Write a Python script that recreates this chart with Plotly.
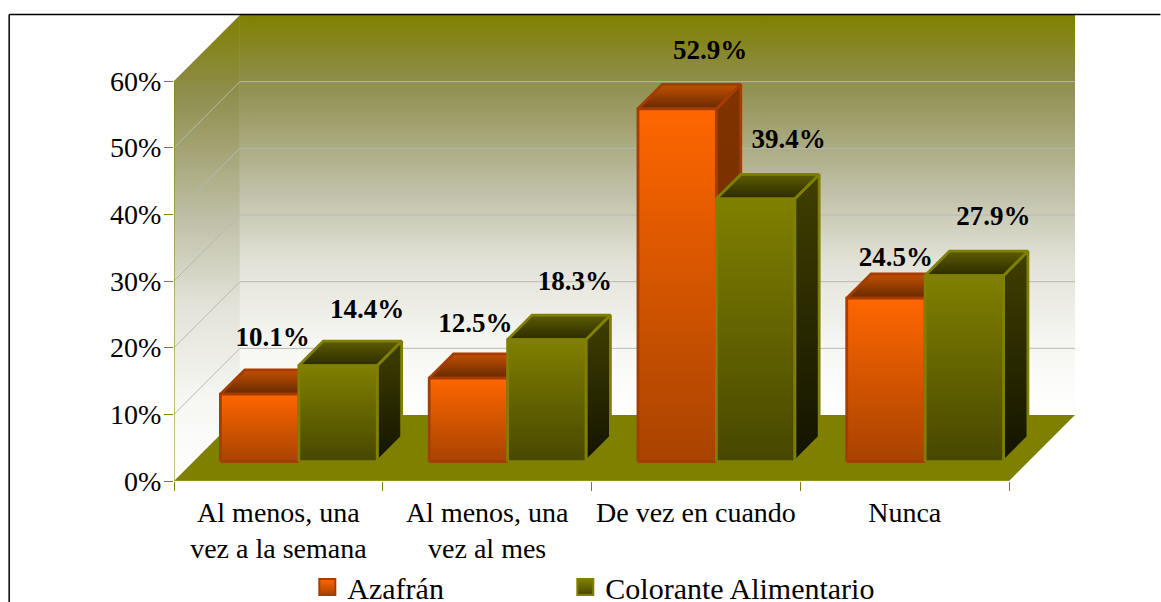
import plotly.graph_objects as go

# ---- data ----
CATEGORIES = ["Al menos, una<br>vez a la semana", "Al menos, una<br>vez al mes", "De vez en cuando", "Nunca"]
AZAFRAN = [10.1, 12.5, 52.9, 24.5]
COLORANTE = [14.4, 18.3, 39.4, 27.9]
Y_TICKS = [0, 10, 20, 30, 40, 50, 60]
Y_LABELS = ["0%", "10%", "20%", "30%", "40%", "50%", "60%"]
AZ_LABELS = ["10.1%", "12.5%", "52.9%", "24.5%"]
CO_LABELS = ["14.4%", "18.3%", "39.4%", "27.9%"]

# ---- layout constants (px) ----
W, H = 1161, 602
L, R, T, B = 173.5, 1076.5, 15, 481
PX_X = 209.0           # px per category
PX_Y = 400.0 / 60      # px per percentage point
DX = 66 / PX_X         # depth vector in axis units
DY = 66 / PX_Y
BAR_W = 78.5 / PX_X
BAR_SHIFT = 1 / PX_X
D_FRONT, D_BACK = 0.295, 0.665
FONT = "Liberation Serif"
FS = 28

# label nudges from the bar's centre/front-top, px
AZ_NUDGE = [(13, 55), (7, 53), (33, 57), (10, 39)]
CO_NUDGE = [(29, 54), (28, 56), (33, 58), (29, 57)]


def P(x, y, d):
    return x + d * DX, y + d * DY


def poly(points, stops, y0=None, y1=None, line=None, lw=2.8):
    xs = [p[0] for p in points] + [points[0][0]]
    ys = [p[1] for p in points] + [points[0][1]]
    top = max(ys) if y0 is None else y0
    bot = min(ys) if y1 is None else y1
    return go.Scatter(
        x=xs, y=ys, mode="lines", fill="toself",
        fillgradient=dict(type="vertical", start=top, stop=bot, colorscale=stops),
        line=dict(color=line or "rgba(0,0,0,0)", width=lw if line else 0),
        showlegend=False, hoverinfo="skip",
    )


def seg(points, color, width=1):
    return go.Scatter(x=[p[0] for p in points], y=[p[1] for p in points], mode="lines",
                      line=dict(color=color, width=width), showlegend=False, hoverinfo="skip")


WALL = [[0, "#808000"], [0.16, "#8d8d4a"], [0.27, "#a0a06e"], [0.44, "#c0c0a8"],
        [0.62, "#e2e2d8"], [0.82, "#f6f6f2"], [1, "#ffffff"]]
N = len(CATEGORIES)
XMAX = (R - L) / PX_X
YMAX = (B - T) / PX_Y
traces = []

# walls
traces.append(poly([P(0, 0, 0), P(0, 60, 0), P(0, 60, 1), P(0, 0, 1)], WALL, y0=60 + DY, y1=0))
traces.append(poly([P(0, 0, 1), P(0, 60, 1), P(N, 60, 1), P(N, 0, 1)], WALL, y0=60 + DY, y1=DY))
# grid
GRID = "#b9b9b0"
for t in Y_TICKS[1:]:
    pts = [P(0, t, 0), P(0, t, 1)]
    if t < 60:
        pts.append(P(N, t, 1))
    traces.append(seg(pts, GRID))
# floor
traces.append(poly([P(0, 0, 0), P(N, 0, 0), P(N, 0, 1), P(0, 0, 1)], [[0, "#808000"], [1, "#808000"]]))
# axis lines
traces.append(seg([P(0, 0, 0), P(0, 60, 0)], "#808000"))
traces.append(seg([P(0, 0, 0), P(N, 0, 0)], "#a6a640"))

STYLES = [
    dict(line="#a33d00",
         front=[[0, "#ff6600"], [1, "#a84300"]],
         top=[[0, "#c45000"], [1, "#662900"]],
         side=[[0, "#803300"], [1, "#6b2b00"]]),
    dict(line="#808000",
         front=[[0, "#808000"], [1, "#474700"]],
         top=[[0, "#5c5c00"], [1, "#2b2b00"]],
         side=[[0, "#404000"], [1, "#131300"]]),
]
SERIES = [AZAFRAN, COLORANTE]
labels_x, labels_y, labels_t = [], [], []
for i in range(N):
    for s, vals in enumerate(SERIES):
        v = vals[i]
        st = STYLES[s]
        x0 = i + 0.5 + (s - 1) * BAR_W + BAR_SHIFT
        x1 = x0 + BAR_W
        traces.append(poly([P(x1, 0, D_FRONT), P(x1, v, D_FRONT), P(x1, v, D_BACK), P(x1, 0, D_BACK)], st["side"], line=st["line"]))
        traces.append(poly([P(x0, v, D_FRONT), P(x1, v, D_FRONT), P(x1, v, D_BACK), P(x0, v, D_BACK)], st["top"], line=st["line"]))
        traces.append(poly([P(x0, 0, D_FRONT), P(x1, 0, D_FRONT), P(x1, v, D_FRONT), P(x0, v, D_FRONT)], st["front"], line=st["line"]))
        nudge = (AZ_NUDGE if s == 0 else CO_NUDGE)[i]
        fx, fy = P(x0 + BAR_W / 2, v, D_FRONT)
        labels_x.append(fx + nudge[0] / PX_X)
        labels_y.append(fy + nudge[1] / PX_Y)
        labels_t.append((AZ_LABELS if s == 0 else CO_LABELS)[i])

traces.append(go.Scatter(x=labels_x, y=labels_y, text=labels_t, mode="text", textposition="middle center",
                         textfont=dict(family=FONT, size=27, color="black", weight="bold"),
                         showlegend=False, hoverinfo="skip", cliponaxis=False))

# legend entries
for name, s in (("Azafrán", 0), ("Colorante Alimentario", 1)):
    st = STYLES[s]
    traces.append(go.Scatter(
        x=[None], y=[None], mode="markers", name=name,
        marker=dict(symbol="square", size=20, color=st["front"][0][1],
                    gradient=dict(type="vertical", color=st["front"][1][1]),
                    line=dict(color=st["line"], width=2)),
    ))
# invisible spacer entry: keeps the legend box wide enough for the last name
traces.append(go.Scatter(x=[None], y=[None], mode="markers", name="\u00a0",
                         marker=dict(size=1, opacity=0, color="rgba(0,0,0,0)")))

fig = go.Figure(traces)
fig.update_layout(
    width=W, height=H, paper_bgcolor="white", plot_bgcolor="rgba(0,0,0,0)",
    margin=dict(l=L, r=W - R, t=T, b=H - B, autoexpand=False, pad=0),
    font=dict(family=FONT, size=FS, color="black"),
    hovermode=False,
    xaxis=dict(range=[0, XMAX], showgrid=False, zeroline=False, showline=False,
               tickmode="array", tickvals=[i + 0.5 for i in range(N)], ticktext=CATEGORIES,
               ticks="", tickangle=0, tickfont=dict(family=FONT, size=FS), ticklabelstandoff=12,
               minor=dict(tickmode="array", tickvals=list(range(N + 1)), ticks="outside",
                          ticklen=9, tickcolor="#808000", tickwidth=1, showgrid=False)),
    yaxis=dict(range=[0, YMAX], showgrid=False, zeroline=False, showline=False,
               tickmode="array", tickvals=Y_TICKS, ticktext=Y_LABELS, ticks="outside",
               ticklen=9, tickcolor="#808000", tickwidth=1, tickfont=dict(family=FONT, size=FS),
               ticklabelstandoff=-3),
    legend=dict(orientation="h", xref="paper", yref="paper", x=0.1478, y=-0.2275, xanchor="left", yanchor="middle",
                entrywidth=213, entrywidthmode="pixels", font=dict(family=FONT, size=30),
                itemclick=False, itemdoubleclick=False, bgcolor="rgba(0,0,0,0)", borderwidth=0,
                traceorder="normal"),
    shapes=[
        dict(type="line", xref="paper", yref="paper", x0=(8.5 - L) / (R - L), x1=(W - L) / (R - L),
             y0=(B - 14.5) / (B - T), y1=(B - 14.5) / (B - T), line=dict(color="black", width=1.5), layer="above"),
        dict(type="line", xref="paper", yref="paper", x0=(8.5 - L) / (R - L), x1=(8.5 - L) / (R - L),
             y0=(B - 14.5) / (B - T), y1=(B - H) / (B - T), line=dict(color="black", width=1.5), layer="above"),
    ],
)
fig.write_html("out.html", config={"displayModeBar": False},
               post_script="document.body.style.margin='0';document.body.style.overflow='hidden';window.dispatchEvent(new Event('resize'));")
